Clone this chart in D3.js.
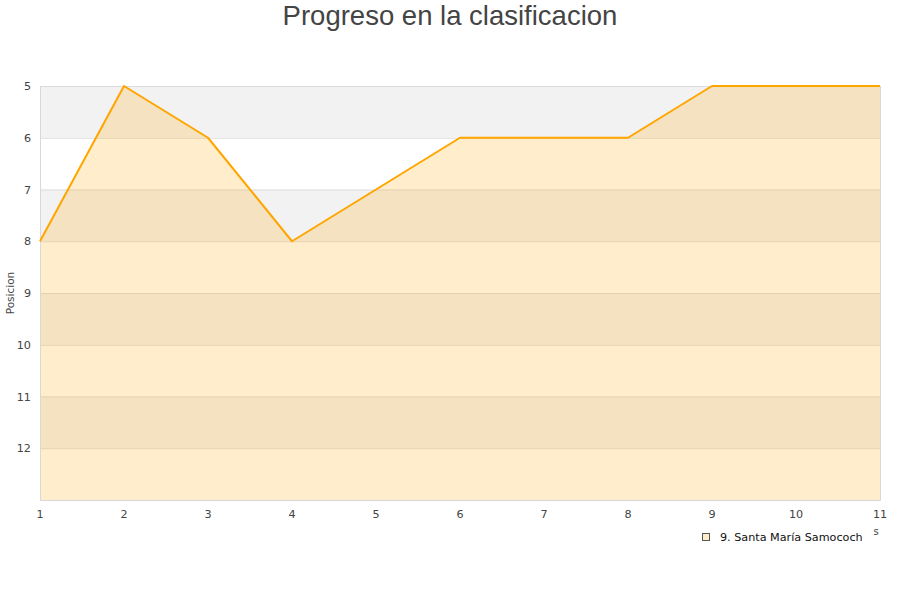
<!DOCTYPE html>
<html><head><meta charset="utf-8">
<script src="https://cdn.jsdelivr.net/npm/d3@7"></script>
<style>body{margin:0;background:#fff}svg{display:block}</style>
</head><body>
<svg id="c" width="900" height="600"></svg>
<script>
const jornadas = [1,2,3,4,5,6,7,8,9,10,11];
const posiciones = [8,5,6,8,7,6,6,6,5,5,5];
const yTicks = [5,6,7,8,9,10,11,12];
const teamName = "9. Santa María Samococh";
const title = "Progreso en la clasificacion";
const yTitle = "Posicion";

const svg = d3.select("#c");
const L=40, R=880, T=86, B=500;
const x = d3.scaleLinear().domain([1,11]).range([L,R]);
const y = d3.scaleLinear().domain([5,13]).range([T,B]);

const bands = d3.range(5,13);
svg.selectAll("rect.band").data(bands).enter().append("rect")
  .attr("x",L).attr("width",R-L)
  .attr("y",d=>y(d)).attr("height",d=>y(d+1)-y(d))
  .attr("fill",(d,i)=> i%2===0 ? "#f2f2f2" : "#ffffff");

svg.selectAll("line.grid").data(d3.range(5,13)).enter().append("line")
  .attr("x1",L).attr("x2",R).attr("y1",d=>y(d)+0.5).attr("y2",d=>y(d)+0.5)
  .attr("stroke","#dddddd").attr("stroke-width",1);

const pts = jornadas.map((j,i)=>[j,posiciones[i]]);
const area = d3.area().x(d=>x(d[0])).y0(B).y1(d=>y(d[1]));
svg.append("path").attr("d",area(pts)).attr("fill","#ffa500").attr("fill-opacity",0.2);

svg.append("path").attr("d",`M${L+0.5},${T}V${B+0.5}H${R+0.5}V${T}`)
  .attr("fill","none").attr("stroke","#d8d8d8");

const line = d3.line().x(d=>x(d[0])).y(d=>y(d[1]));
svg.append("path").attr("d",line(pts)).attr("fill","none")
  .attr("stroke","#ffa500").attr("stroke-width",2).attr("stroke-linejoin","round");

svg.selectAll("text.yl").data(yTicks).enter().append("text")
  .attr("x",31).attr("y",d=>y(d)+4).attr("text-anchor","end")
  .attr("font-family","DejaVu Sans").attr("font-size",11.2).attr("fill","#444")
  .text(d=>d);
svg.selectAll("text.xl").data(jornadas).enter().append("text")
  .attr("x",d=>x(d)).attr("y",518).attr("text-anchor","middle")
  .attr("font-family","DejaVu Sans").attr("font-size",11.2).attr("fill","#444")
  .text(d=>d);

svg.append("text").attr("transform","translate(14,293) rotate(-90)")
  .attr("text-anchor","middle").attr("font-family","DejaVu Sans").attr("font-size",10.5)
  .attr("fill","#444").text(yTitle);

svg.append("text").attr("x",450).attr("y",25).attr("text-anchor","middle")
  .attr("font-family","Liberation Sans").attr("font-size",27.5).attr("fill","#444").text(title);

svg.append("text").attr("x",876).attr("y",535).attr("text-anchor","middle")
  .attr("font-family","DejaVu Sans").attr("font-size",10).attr("fill","#444").text("s");

svg.append("rect").attr("x",702.5).attr("y",533.5).attr("width",7).attr("height",7)
  .attr("fill","#ffecca").attr("stroke","#555").attr("stroke-width",1);
svg.append("text").attr("x",720).attr("y",541).attr("font-family","DejaVu Sans")
  .attr("font-size",11.2).attr("fill","#111").text(teamName);
</script>
</body></html>
